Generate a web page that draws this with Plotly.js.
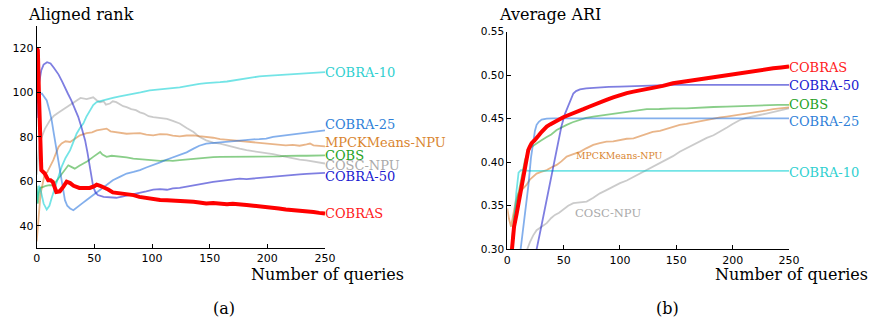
<!DOCTYPE html>
<html>
<head>
<meta charset="utf-8">
<script src="https://cdn.plot.ly/plotly-3.0.1.min.js"></script>
<style>html,body{margin:0;padding:0;background:#fff;}#chart{width:869px;height:327px;}</style>
</head>
<body>
<div id="chart"></div>
<script>
// ---------- (a) Aligned rank : [queries, rank] ----------
const cobrasRank = [[0,120],[1,119],[2,98],[3,76],[4,65],[7,63.5],[10,60.5],[12,60.5],[14,59.7],[17,55.2],[20,55.5],[23,57.5],[26,59.8],[29,59.2],[32,58],[37,57],[42,57.2],[46,57],[50,57.8],[52,58.5],[55,58],[58,57.4],[62,56.3],[66,55],[70,54.8],[78,54.5],[84,53.8],[89,53],[95,52.5],[101,51.8],[107,51.6],[113,51.5],[118,51.4],[124,51],[130,51.2],[136,50.8],[141,50.5],[147,50],[153,50.2],[159,49.8],[165,49.7],[170,49.9],[176,49.4],[182,49.3],[188,49],[193,48.8],[199,48.2],[205,48.3],[210,47.8],[216,47.3],[222,47.1],[228,46.8],[234,46.3],[240,46.2],[245,45.8],[250,45.5]];
const cobra50Rank = [[0,88.5],[2,104],[4,110],[6,112.5],[9,113.6],[12,113],[15,111],[19,108],[22,105],[24.5,102],[27,99.5],[30,96.4],[33,93],[36,89],[39,84],[42,78.4],[44,73],[46,66.5],[48,60],[49,57.5],[51,55],[53,53.8],[58,53],[63.5,52.7],[69,52.6],[75,53.2],[81,53.8],[85,54.5],[89.5,54.8],[95,55.5],[101,56.3],[107,56.5],[113,56.2],[118,56.8],[124,57],[130,57.6],[136,58.2],[141,58.7],[147,59.3],[153,59.7],[160,60.2],[165,60.6],[170,61],[176,61.2],[182,61],[188,61.3],[193,61.6],[199,61.8],[205,62],[211,62.4],[216,62.7],[222,63],[228,63.1],[234,63.3],[240,63.5],[245,63.6],[250,63.8]];
const cobra25Rank = [[0,95],[2,99],[4.5,99.5],[6,98.5],[8.7,96.4],[11,92],[13,87.4],[15,81],[17.3,74],[19.5,67],[21.6,60.5],[23,55],[24.5,51.5],[26.5,49],[29,47.8],[31.8,47],[34,47.8],[37.5,49.3],[40,50.3],[43,51.5],[46,52.7],[49,53.8],[53,55.5],[58,57.5],[62,59],[66,60.5],[72,62],[78,63.5],[84,64.2],[89.5,65],[95,66.2],[101,67.2],[107,68.5],[113,69.8],[118,70.8],[124,71.7],[130,73],[136,74.7],[141,76],[147,77],[153,77.3],[159,77.6],[165,77.7],[170,78.2],[176,78.5],[182,78.7],[188,78.9],[193,79],[199,79.2],[205,80],[211,80.4],[216,80.7],[222,81],[228,81.4],[234,81.7],[240,82.2],[245,82.6],[250,82.9]];
const cobra10Rank = [[0,50],[1,55],[2,58],[3,57],[4,55],[6,50],[8.7,47.3],[11,49],[13,52.5],[16,57.5],[19,62.5],[21.6,66.5],[25,70.5],[29,74],[32,78],[34.6,81.4],[37.5,84],[40.4,86],[43,89],[46,92],[49,94.3],[52,95.6],[56,96.2],[60.6,97],[66,97.5],[72,98.2],[78,98.7],[83.7,99.4],[90,100],[98,100.9],[105,101.2],[113,101.6],[118,101.8],[124,102.3],[130,102.8],[136,103.5],[141,103.8],[147,104.2],[153,104.3],[159,104.6],[165,104.9],[170,105.3],[176,106],[182,106.4],[188,106.8],[193,107.2],[199,107.4],[205,107.6],[211,107.9],[216,108.1],[222,108.3],[228,108.5],[234,108.7],[240,108.9],[245,109],[250,109.1]];
const coscRank = [[0,63],[1,70],[2,75],[3,78],[4.3,80],[7,83.5],[11.5,87.4],[15,89.5],[19,91],[22,92],[26,93.4],[30,95],[34.6,96.4],[38,97.5],[43.3,97],[46,97.5],[49,97.8],[52,96.5],[55,95.6],[58,96],[60,94.5],[63.5,95],[66,96],[69,95.6],[72,94.6],[75,93.8],[78,93.4],[82,92.5],[86,92],[89.5,91],[93,90.5],[97,89.3],[101,88.9],[107,88.5],[113,88.1],[118,87.2],[124,86],[130,84],[136,82.2],[141,80],[147,78.4],[153,77.4],[159,77],[165,76.2],[170,75.4],[176,74.7],[182,74],[188,73.6],[193,73.2],[199,72.8],[205,72.2],[211,71.6],[216,71],[222,70.3],[228,69.8],[234,69.4],[240,68.8],[245,68.3],[250,68]];
const mpckRank = [[0,33],[1,40],[2,47],[2.9,51.5],[4,56],[5.5,60],[7,63.5],[9,64],[11,66],[14.4,69.5],[17,73],[19,75.5],[21.6,77],[25,78],[29,77.7],[33,79],[37.5,80.7],[43.3,81.7],[48,82],[52,82.9],[56,83.2],[60.6,83.7],[64,82.5],[69,82.2],[74,81.6],[78,81.4],[84,81.6],[89.5,81.7],[95,81],[101,80.7],[107,81.2],[113,81.1],[118,80.6],[124,80.2],[130,80.6],[136,80.7],[141,80.3],[147,80],[153,79.6],[159,79],[165,78.7],[170,78.3],[176,78],[182,77.7],[188,77.4],[193,77.1],[199,77],[205,76.6],[211,76.5],[216,76.2],[222,76.4],[228,76],[234,76.6],[237,77],[240,76.2],[245,76],[250,75.7]];
const cobsRank = [[0,58],[1,50],[2,55],[3,57],[5.8,57.5],[8,58],[11,58.3],[14.4,58.2],[17,60],[20,62],[23,64.5],[27.4,67.2],[30,66.5],[33,65.7],[37,67],[40.4,68],[44,69],[49,71],[52,72],[55,73.2],[57,72],[60.6,71],[65,71.5],[72,71.3],[78,70.8],[83.7,70.2],[89,70],[95,69.8],[101,69.5],[107,69.2],[113,69.4],[118,69.2],[124,69.5],[130,69.8],[136,70.2],[141,70.4],[147,70.7],[153,70.9],[159,71],[165,71],[170,71.2],[176,71],[182,71],[188,71.2],[193,71.2],[199,71.3],[205,71.3],[211,71.2],[216,71.4],[222,71.3],[228,71.5],[234,71.5],[240,71.6],[245,71.7],[250,71.7]];

// ---------- (b) Average ARI : [queries, ARI] ----------
const cobrasARI = [[2,0.27],[4,0.30],[6,0.326],[8.3,0.341],[10.5,0.357],[12.7,0.372],[14,0.385],[15.7,0.399],[17,0.408],[18.6,0.414],[20,0.418],[21.6,0.422],[24,0.425],[26,0.4275],[28,0.431],[30.5,0.435],[33,0.439],[35,0.441],[38,0.4435],[42.3,0.4467],[46,0.4495],[49.7,0.4517],[54,0.454],[58.6,0.456],[63,0.4585],[67.5,0.461],[72,0.4635],[76.3,0.466],[82,0.4688],[88,0.4716],[94,0.4745],[100,0.4773],[106,0.4795],[112,0.4812],[120,0.483],[129.6,0.485],[138,0.4878],[147,0.4907],[156,0.4928],[165,0.4946],[174,0.496],[183,0.4976],[192,0.4995],[200.6,0.5015],[209,0.5032],[218,0.505],[227,0.5065],[236,0.508],[243,0.509],[250,0.51]];
const cobra50ARI = [[20,0.25],[26,0.30],[30,0.325],[35,0.358],[40.8,0.395],[44,0.418],[48,0.441],[51,0.455],[54,0.464],[56,0.472],[58.6,0.479],[61,0.4818],[64.5,0.4838],[70,0.485],[76.3,0.4857],[90,0.4865],[100,0.4869],[115,0.4874],[129.6,0.488],[147,0.489],[200,0.489],[250,0.489]];
const cobra25ARI = [[9,0.27],[12,0.30],[15,0.335],[18.6,0.372],[21,0.405],[23,0.4256],[24.5,0.436],[26,0.443],[28,0.4465],[30.5,0.449],[35,0.4502],[40.8,0.4505],[100,0.4505],[250,0.4505]];
const cobra10ARI = [[2,0.28],[4,0.30],[6,0.33],[8,0.365],[10,0.388],[12,0.391],[20,0.39],[250,0.39]];
const cobsARI = [[3,0.29],[4.5,0.32],[6,0.3375],[8.5,0.355],[11.2,0.372],[13.5,0.388],[15.7,0.4026],[18,0.411],[20,0.416],[23,0.419],[26,0.422],[30,0.425],[35,0.429],[39,0.432],[43.8,0.437],[48,0.44],[52.7,0.443],[58,0.446],[64.5,0.4486],[70,0.451],[76.3,0.4525],[82,0.4535],[88,0.454],[95,0.4555],[106,0.458],[115,0.4595],[123.7,0.461],[135,0.4612],[147,0.462],[159,0.4618],[171,0.463],[183,0.4635],[194.7,0.464],[206,0.4645],[218,0.4655],[230,0.4658],[240,0.466],[250,0.466]];
const mpckARI = [[0,0.347],[1.5,0.335],[3.3,0.326],[5.3,0.341],[7.5,0.355],[9.8,0.364],[12,0.367],[14.2,0.37],[17,0.374],[20,0.38],[23,0.384],[26,0.387],[30,0.389],[35,0.391],[39,0.394],[43.8,0.397],[48,0.401],[52.7,0.4065],[58,0.409],[64.5,0.412],[70,0.416],[76.3,0.42],[82,0.422],[88,0.4237],[94,0.424],[100,0.4256],[106,0.427],[112,0.4275],[118,0.43],[123.7,0.433],[129,0.435],[135.5,0.436],[141,0.438],[147,0.441],[153,0.443],[159,0.444],[165,0.4455],[171,0.4467],[177,0.4485],[183,0.4505],[189,0.4515],[194.7,0.4525],[200,0.4535],[206.5,0.4543],[212,0.4555],[218,0.457],[224,0.458],[230,0.4595],[236,0.461],[243,0.462],[250,0.463]];
const coscARI = [[14,0.28],[17.7,0.30],[20,0.308],[23,0.316],[26,0.322],[30,0.326],[35,0.33],[39,0.336],[42.3,0.3395],[46,0.342],[50,0.346],[54,0.35],[58.6,0.353],[64,0.354],[70.4,0.3548],[76,0.359],[82.2,0.3643],[88,0.368],[94,0.372],[100,0.376],[106,0.379],[112,0.383],[117.8,0.387],[124,0.391],[130,0.395],[135.5,0.399],[141,0.403],[147,0.407],[153,0.412],[159,0.416],[165,0.42],[171,0.4237],[177,0.428],[183,0.431],[188.8,0.435],[195,0.44],[200,0.444],[206.5,0.4486],[212,0.451],[218,0.453],[224,0.4543],[230,0.456],[236,0.458],[242,0.46],[250,0.462]];

// series names and tick values
const names = ['COBRA-10','COBRA-25','MPCKMeans-NPU','COBS','COSC-NPU','COBRA-50','COBRAS'];
const xTicks = [0,50,100,150,200,250];
const rankTicks = [40,60,80,100,120];
const ariTicks = [0.30,0.35,0.40,0.45,0.50,0.55];
// label anchor values [x, y] for series labels
const rankLabelPos = {'COBRA-10':[250,109],'COBRA-25':[250,85.6],'MPCKMeans-NPU':[250,77.5],'COBS':[250,71.7],'COSC-NPU':[250,67.2],'COBRA-50':[250,62.3],'COBRAS':[250,45.7]};
const ariLabelPos = {'COBRAS':[250,0.509],'COBRA-50':[250,0.4884],'COBS':[250,0.4658],'COBRA-25':[250,0.4463],'COBRA-10':[250,0.3888],'MPCKMeans-NPU':[100,0.4072],'COSC-NPU':[89,0.3417]};

const style = {
  'COBRA-10':      {line:'rgba(0,206,209,0.55)',  label:'#2fd0d0', w:1.8},
  'COBRA-25':      {line:'rgba(30,110,220,0.55)', label:'#2f7fd8', w:1.8},
  'MPCKMeans-NPU': {line:'rgba(215,120,40,0.55)', label:'#d9852f', w:1.8},
  'COBS':          {line:'rgba(40,165,40,0.55)',  label:'#25a225', w:1.8},
  'COSC-NPU':      {line:'rgba(160,160,160,0.55)',label:'#aaaaaa', w:1.8},
  'COBRA-50':      {line:'rgba(20,20,200,0.55)',  label:'#1a1ad0', w:1.8},
  'COBRAS':        {line:'#ff0000',               label:'#ff2020', w:4}
};
const rankData = {'COBRA-10':cobra10Rank,'COBRA-25':cobra25Rank,'MPCKMeans-NPU':mpckRank,'COBS':cobsRank,'COSC-NPU':coscRank,'COBRA-50':cobra50Rank,'COBRAS':cobrasRank};
const ariData = {'COBRA-10':cobra10ARI,'COBRA-25':cobra25ARI,'MPCKMeans-NPU':mpckARI,'COBS':cobsARI,'COSC-NPU':coscARI,'COBRA-50':cobra50ARI,'COBRAS':cobrasARI};

const order = ['COSC-NPU','MPCKMeans-NPU','COBS','COBRA-10','COBRA-25','COBRA-50','COBRAS'];
const traces = [];
order.forEach(n => {
  traces.push({x:rankData[n].map(p=>p[0]), y:rankData[n].map(p=>p[1]), xaxis:'x', yaxis:'y', type:'scatter', mode:'lines', name:n, showlegend:false, line:{color:style[n].line, width:style[n].w}, hoverinfo:'skip'});
  traces.push({x:ariData[n].map(p=>p[0]), y:ariData[n].map(p=>p[1]), xaxis:'x2', yaxis:'y2', type:'scatter', mode:'lines', name:n, showlegend:false, line:{color:style[n].line, width:style[n].w}, hoverinfo:'skip'});
});

const serif = 'DejaVu Serif';
const sans = 'DejaVu Sans';
const annotations = [];
names.forEach(n => {
  const p = rankLabelPos[n];
  annotations.push({xref:'x', yref:'y', x:p[0], y:p[1], text:n, showarrow:false, xanchor:'left', yanchor:'middle', xshift:-1, borderpad:0, font:{family:serif, size:13, color:style[n].label}});
  const q = ariLabelPos[n];
  const inside = (n==='MPCKMeans-NPU'||n==='COSC-NPU');
  annotations.push({xref:'x2', yref:'y2', x:q[0], y:q[1], text:n, showarrow:false, xanchor:inside?'center':'left', yanchor:'middle', xshift:inside?0:-1, borderpad:0,
    font:{family:serif, size: n==='MPCKMeans-NPU'?9.3:(n==='COSC-NPU'?11.5:13), color:style[n].label}});
});
const txt = (t,x,y,xa,size) => ({xref:'paper', yref:'paper', x:x, y:y, text:t, showarrow:false, xanchor:xa, yanchor:'middle', borderpad:0, font:{family:serif, size:size, color:'#000'}});
annotations.push(txt('Aligned rank', 27/869, 1-14/327, 'left', 16));
annotations.push(txt('Average ARI', 498/869, 1-14/327, 'left', 16));
annotations.push(txt('Number of queries', 405/869, 1-274/327, 'right', 16));
annotations.push(txt('Number of queries', 869/869, 1-274/327, 'right', 16));
annotations.push(txt('(a)', 224/869, 1-308/327, 'center', 16));
annotations.push(txt('(b)', 667/869, 1-308/327, 'center', 16));

const axBase = {showgrid:false, zeroline:false, showline:true, linecolor:'#000', linewidth:1, ticks:'inside', ticklen:4, tickwidth:1, tickcolor:'#000', tickfont:{family:sans, size:11, color:'#000'}, fixedrange:true};
const layout = {
  width:869, height:327, margin:{l:0,r:0,t:0,b:0}, paper_bgcolor:'#fff', plot_bgcolor:'#fff', showlegend:false,
  font:{family:serif},
  xaxis: Object.assign({}, axBase, {domain:[36.7/869, 325/869], range:[0,250], tickvals:xTicks, anchor:'y'}),
  yaxis: Object.assign({}, axBase, {domain:[1-248/327, 1-25.7/327], range:[30,130], tickvals:rankTicks, anchor:'x'}),
  xaxis2: Object.assign({}, axBase, {domain:[507.3/869, 789/869], range:[0,250], tickvals:xTicks, anchor:'y2'}),
  yaxis2: Object.assign({}, axBase, {domain:[1-249.3/327, 1-31.7/327], range:[0.30,0.55], tickvals:ariTicks, tickformat:'.2f', anchor:'x2', tickfont:{family:sans, size:10.5, color:'#000'}}),
  annotations: annotations
};
Plotly.newPlot('chart', traces, layout, {staticPlot:true, displayModeBar:false});
</script>
</body>
</html>
